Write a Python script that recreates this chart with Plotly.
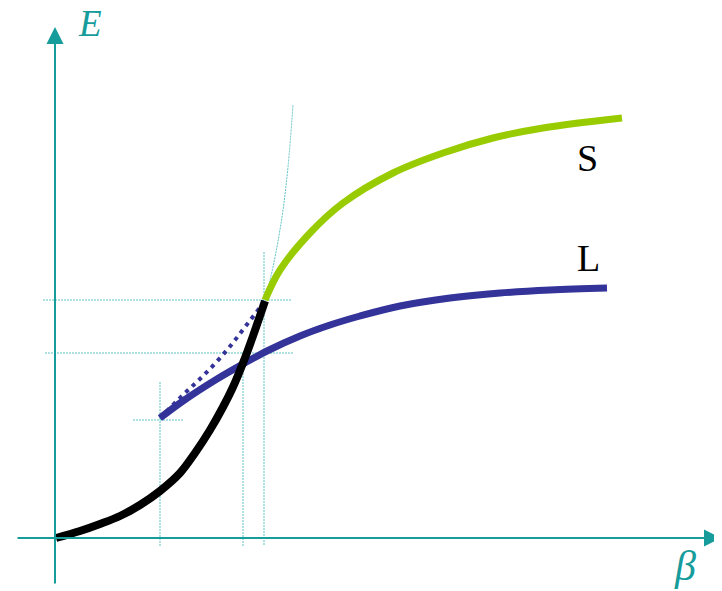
import plotly.graph_objects as go

# Coordinates: x = pixels right of origin, y = pixels above origin
OX, OY = 56, 538
def X(v): return [p - OX for p in v]
def Y(v): return [OY - p for p in v]

black_px = [56, 80, 100, 120, 140, 160, 180, 195, 210, 223, 233, 243, 253, 265]
black_py = [538, 531, 524, 516, 505, 491, 473, 453, 430, 407, 387, 363, 336, 301]

blue_px = [160, 183, 217, 243, 267, 300, 330, 360, 400, 450, 500, 550, 607]
blue_py = [418, 401, 379, 364, 351, 336, 325, 316, 306, 298, 293, 290, 288]

dot_px = [160, 183, 205, 227, 245, 265]
dot_py = [418, 395, 374, 350, 327, 301]

green_px = [265, 280, 310, 343, 393, 443, 493, 543, 622]
green_py = [300, 270, 233, 203, 173, 153, 138, 128, 118]

thin_px = [265, 273, 282, 288, 293]
thin_py = [300, 267, 217, 167, 105]

# guide lines: (x0, y0, x1, y1) in pixel coords
guides = [
    (43, 300, 292, 300),
    (45, 353, 293, 353),
    (133, 420, 183, 420),
    (160, 382, 160, 546),
    (243, 352, 243, 546),
    (264, 252, 264, 546),
]

TEAL = "#179c9c"
GUIDE = "#5fc3c3"
PAD = 8  # default page body margin

fig = go.Figure()

for (x0, y0, x1, y1) in guides:
    fig.add_trace(go.Scatter(x=X([x0, x1]), y=Y([y0, y1]), mode="lines",
                             line=dict(color=GUIDE, width=1, dash="2px,1px"),
                             hoverinfo="skip", showlegend=False))

fig.add_trace(go.Scatter(x=X(thin_px), y=Y(thin_py), mode="lines",
                         line=dict(color=GUIDE, width=1, dash="2px,1px", shape="spline"),
                         showlegend=False))

fig.add_trace(go.Scatter(x=X(blue_px), y=Y(blue_py), mode="lines",
                         line=dict(color="#333399", width=7, shape="spline"), showlegend=False))
fig.add_trace(go.Scatter(x=X(dot_px), y=Y(dot_py), mode="lines",
                         line=dict(color="#333399", width=4, dash="4px,5px", shape="spline"),
                         showlegend=False))
fig.add_trace(go.Scatter(x=X(green_px), y=Y(green_py), mode="lines",
                         line=dict(color="#99cc00", width=7, shape="spline"), showlegend=False))
fig.add_trace(go.Scatter(x=X(black_px), y=Y(black_py), mode="lines",
                         line=dict(color="black", width=8, shape="spline"), showlegend=False))

# axes with arrows
fig.add_annotation(x=55 - OX, y=OY - 27, ax=55 - OX, ay=OY - 585, xref="x", yref="y",
                   axref="x", ayref="y", showarrow=True, arrowhead=2, arrowsize=1.7,
                   arrowwidth=2, arrowcolor=TEAL, text="")
fig.add_annotation(x=721 - OX, y=0, ax=16 - OX, ay=0, xref="x", yref="y",
                   axref="x", ayref="y", showarrow=True, arrowhead=2, arrowsize=1.7,
                   arrowwidth=2, arrowcolor=TEAL, text="")

fig.add_annotation(x=90 - OX, y=OY - 23, text="<i>E</i>", showarrow=False,
                   font=dict(family="Liberation Serif", size=37, color=TEAL))
fig.add_annotation(x=685 - OX, y=OY - 566, text="<i>β</i>", showarrow=False,
                   font=dict(family="Liberation Serif", size=42, color=TEAL))
fig.add_annotation(x=587 - OX, y=OY - 158, text="S", showarrow=False,
                   font=dict(family="Liberation Serif", size=38, color="black"))
fig.add_annotation(x=588 - OX, y=OY - 258, text="L", showarrow=False,
                   font=dict(family="Liberation Serif", size=38, color="black"))

fig.update_layout(
    width=722 - PAD, height=591 - PAD,
    margin=dict(l=0, r=0, t=0, b=0),
    paper_bgcolor="white", plot_bgcolor="white",
    xaxis=dict(range=[PAD - OX, 722 - OX], visible=False, fixedrange=True),
    yaxis=dict(range=[OY - 591, OY - PAD], visible=False, fixedrange=True),
    showlegend=False,
)

fig.write_html("out.html")
